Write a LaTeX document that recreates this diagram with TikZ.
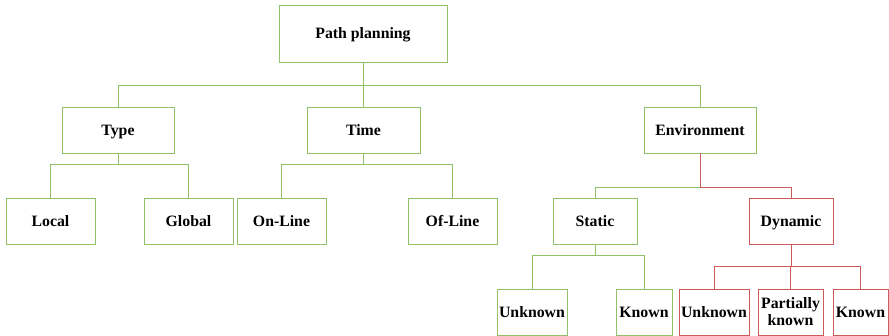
\documentclass[tikz,border=0pt]{standalone}
\usepackage{xcolor}
\usepackage{fontspec}
\setmainfont{Liberation Serif}
\usepackage{tikz}

\definecolor{grn}{RGB}{145,192,105}
\definecolor{rd}{RGB}{205,90,90}

\begin{document}
\begin{tikzpicture}[x=1pt, y=-1pt,
    box/.style={draw=grn, line width=0.8pt, minimum height=46pt, inner sep=1pt,
        text height=12pt, text depth=1.6pt,
        align=center, font=\fontsize{15.8}{17}\selectfont\bfseries},
    redbox/.style={box, draw=rd},
    elbow/.style={to path={-- ++(0,#1) -| (\tikztotarget)}},
    link/.style={draw=grn, line width=0.8pt}]
        \useasboundingbox (0,0) rectangle (889,336);

        \node[box, minimum width=168pt, minimum height=57pt] (plan) at (363,33.5) {Path planning};

        \node[box, minimum width=112pt] (type) at (118,130)   {Type};
        \node[box, minimum width=113pt] (time) at (363.5,130) {Time};
        \node[box, minimum width=112pt] (env)  at (700,130)   {Environment};

        \node[box, minimum width=89pt] (local)  at (50.5,221)  {Local};
        \node[box, minimum width=89pt] (global) at (188.5,221) {Global};
        \node[box, minimum width=89pt] (online) at (281.5,221) {On-Line};
        \node[box, minimum width=89pt] (ofline) at (452.5,221) {Of-Line};
        \node[box, minimum width=84pt] (static) at (595,221)   {Static};
        \node[redbox, minimum width=84pt] (dyn) at (791,221)   {Dynamic};

        \node[box, minimum width=70pt] (sunk) at (532,312)   {Unknown};
        \node[box, minimum width=56pt] (skn)  at (644,312)   {Known};
        \node[redbox, minimum width=70pt] (dunk) at (714,312)  {Unknown};
        \node[redbox, minimum width=65pt, text height=, text depth=] (dpart) at (790.5,312) {Partially\\known};
        \node[redbox, minimum width=55pt] (dkn) at (860.5,312)  {Known};

        \path[link]
        (plan.south) edge[elbow=23] (type.north)
        (plan.south) edge[elbow=23] (time.north)
        (plan.south) edge[elbow=23] (env.north)
        (type.south) edge[elbow=11] (local.north)
        (type.south) edge[elbow=11] (global.north)
        (time.south) edge[elbow=11] (online.north)
        (time.south) edge[elbow=11] (ofline.north)
        (env.south) edge[elbow=34] (static.north)
        (static.south) edge[elbow=11] (sunk.north)
        (static.south) edge[elbow=11] (skn.north);

        \path[link, draw=rd]
        (env.south) edge[elbow=34] (dyn.north)
        (dyn.south) edge[elbow=22] (dunk.north)
        (dyn.south) edge[elbow=22] (dpart.north)
        (dyn.south) edge[elbow=22] (dkn.north);

    \end{tikzpicture}
\end{document}
